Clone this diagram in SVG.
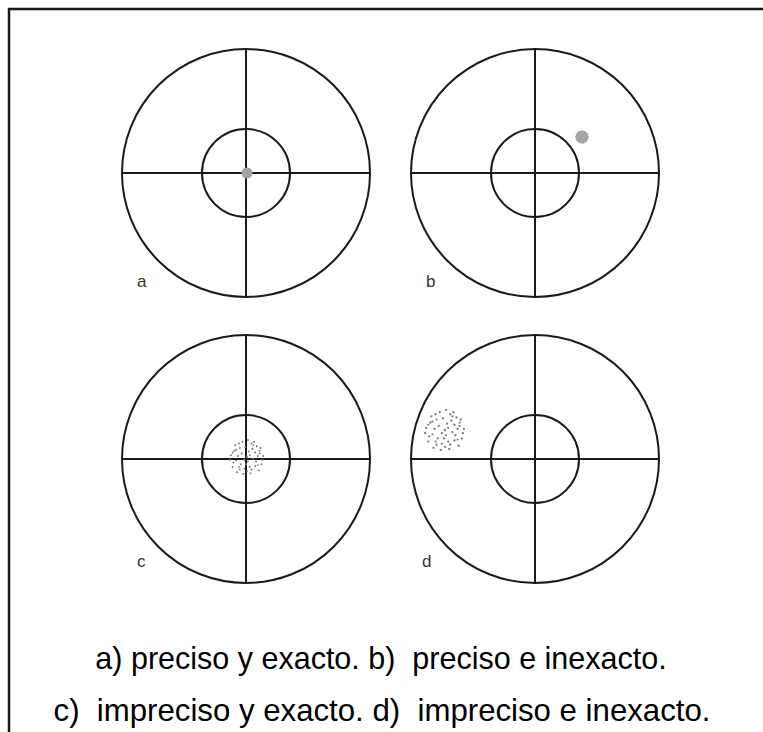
<svg xmlns="http://www.w3.org/2000/svg" xmlns:xlink="http://www.w3.org/1999/xlink" width="763" height="732" viewBox="0 0 763 732">
<style>
.ring{fill:none;stroke:#1a1a1a;stroke-width:2}
.ax{stroke:#1a1a1a;stroke-width:2}
.lbl{font-family:"Liberation Sans",Arial,sans-serif;font-size:17px;fill:#333}
.cap{font-family:"Liberation Sans",Arial,sans-serif;font-size:30.5px;fill:#000;text-anchor:middle}
.cap2{font-size:31.2px}
.dot{fill:#7a7a7a}
</style>
<defs>
<g id="speckle">
<circle class="dot" cx="-12" cy="-8" r="1.1"/><circle class="dot" cx="5" cy="-15" r="1.1"/><circle class="dot" cx="14" cy="-4" r="1.1"/><circle class="dot" cx="-3" cy="3" r="1.1"/><circle class="dot" cx="9" cy="10" r="1.1"/><circle class="dot" cx="-15" cy="6" r="1.1"/><circle class="dot" cx="2" cy="-6" r="1.1"/><circle class="dot" cx="-8" cy="14" r="1.1"/><circle class="dot" cx="16" cy="8" r="1.1"/><circle class="dot" cx="-5" cy="-17" r="1.1"/><circle class="dot" cx="11" cy="-12" r="1.1"/><circle class="dot" cx="0" cy="16" r="1.1"/><circle class="dot" cx="-18" cy="-2" r="1.1"/><circle class="dot" cx="7" cy="2" r="1.1"/><circle class="dot" cx="-10" cy="-1" r="1.1"/><circle class="dot" cx="3" cy="11" r="1.1"/><circle class="dot" cx="-2" cy="-11" r="1.1"/><circle class="dot" cx="13" cy="15" r="1.1"/><circle class="dot" cx="-13" cy="-13" r="1.1"/><circle class="dot" cx="18" cy="-1" r="1.1"/><circle class="dot" cx="-7" cy="8" r="1.1"/><circle class="dot" cx="6" cy="-9" r="1.1"/><circle class="dot" cx="-16" cy="11" r="1.1"/><circle class="dot" cx="10" cy="5" r="1.1"/><circle class="dot" cx="-4" cy="19" r="1.1"/><circle class="dot" cx="1" cy="-19" r="1.1"/><circle class="dot" cx="15" cy="-10" r="1.1"/><circle class="dot" cx="-11" cy="17" r="1.1"/><circle class="dot" cx="4" cy="18" r="1.1"/><circle class="dot" cx="-19" cy="3" r="1.1"/><circle class="dot" cx="8" cy="-17" r="1.1"/><circle class="dot" cx="-6" cy="-4" r="1.1"/><circle class="dot" cx="12" cy="-1" r="1.1"/><circle class="dot" cx="-1" cy="8" r="1.1"/><circle class="dot" cx="17" cy="3" r="1.1"/><circle class="dot" cx="-9" cy="-15" r="1.1"/><circle class="dot" cx="5" cy="14" r="1.1"/><circle class="dot" cx="-14" cy="-7" r="1.1"/><circle class="dot" cx="0" cy="0" r="1.1"/><circle class="dot" cx="9" cy="-5" r="1.1"/>
<circle class="dot" cx="-8" cy="-10" r="1"/><circle class="dot" cx="3" cy="-2" r="1"/><circle class="dot" cx="-12" cy="4" r="1"/><circle class="dot" cx="7" cy="-13" r="1"/><circle class="dot" cx="12" cy="9" r="1"/><circle class="dot" cx="-3" cy="13" r="1"/><circle class="dot" cx="-16" cy="-5" r="1"/><circle class="dot" cx="14" cy="-7" r="1"/><circle class="dot" cx="-9" cy="11" r="1"/><circle class="dot" cx="1" cy="5" r="1"/>
</g>
<g id="target">
<circle class="ring" cx="0" cy="0" r="124"/>
<circle class="ring" cx="0" cy="0" r="44"/>
<line class="ax" x1="-124" y1="0" x2="124" y2="0"/>
<line class="ax" x1="0" y1="-124" x2="0" y2="124"/>
</g>
</defs>
<rect x="0" y="0" width="763" height="732" fill="#fff"/>
<rect x="9" y="9" width="820" height="820" fill="none" stroke="#1a1a1a" stroke-width="2.5"/>
<g id="node-a">
<use xlink:href="#target" href="#target" x="246" y="173"/>
<circle cx="247" cy="173" r="5.5" fill="#a8a8a8"/>
<use xlink:href="#speckle" href="#speckle" transform="translate(247,173) scale(0.27)"/>
<text class="lbl" x="137" y="287">a</text>
</g>
<g id="node-b">
<use xlink:href="#target" href="#target" x="535" y="173"/>
<circle cx="582" cy="137" r="6.5" fill="#aaaaaa"/>
<use xlink:href="#speckle" href="#speckle" transform="translate(582,137) scale(0.35)"/>
<text class="lbl" x="426" y="287">b</text>
</g>
<g id="node-c">
<use xlink:href="#target" href="#target" x="246" y="459"/>
<use xlink:href="#speckle" href="#speckle" transform="translate(247,457) scale(0.9)"/>
<text class="lbl" x="137" y="567">c</text>
</g>
<g id="node-d">
<use xlink:href="#target" href="#target" x="535" y="459"/>
<use xlink:href="#speckle" href="#speckle" transform="translate(445,430) scale(1.05)"/>
<text class="lbl" x="422" y="567">d</text>
</g>
<g id="caption">
<text class="cap" x="381" y="669" xml:space="preserve">a) preciso y exacto. b)  preciso e inexacto.</text>
<text class="cap cap2" x="382" y="721" xml:space="preserve">c)  impreciso y exacto. d)  impreciso e inexacto.</text>
</g>
<g id="connectors"></g>
</svg>
